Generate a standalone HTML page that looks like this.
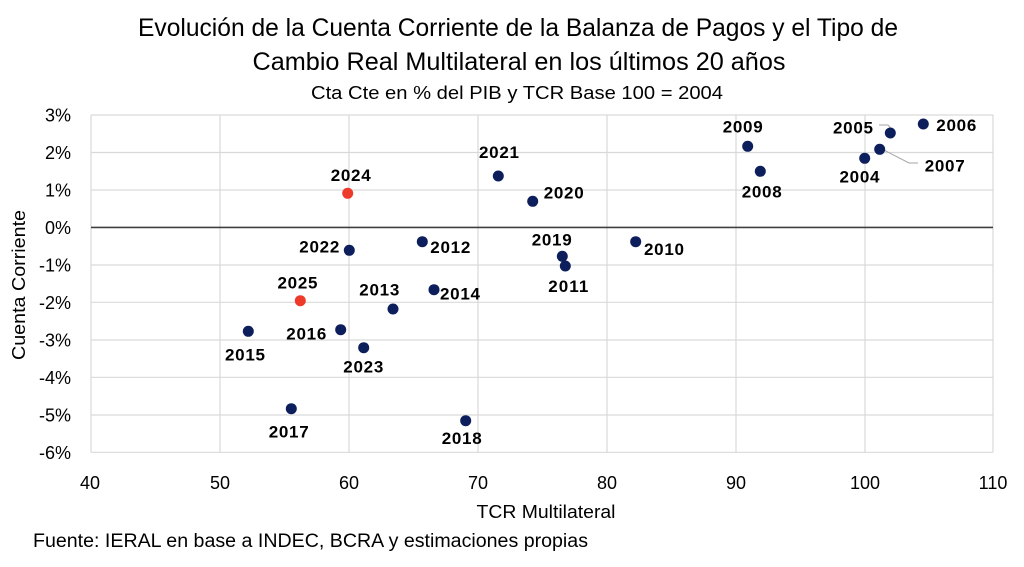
<!DOCTYPE html>
<html>
<head>
<meta charset="utf-8">
<style>
html,body{margin:0;padding:0;background:#fff;}
svg{display:block;}
text{font-family:"Liberation Sans",Arial,sans-serif;}
</style>
</head>
<body>
<svg width="1024" height="567" viewBox="0 0 1024 567" xmlns="http://www.w3.org/2000/svg">
<rect width="1024" height="567" fill="#fff"/>
<!-- Titles -->
<text x="518" y="36" font-size="25" fill="#000" text-anchor="middle" textLength="760" lengthAdjust="spacingAndGlyphs">Evolución de la Cuenta Corriente de la Balanza de Pagos y el Tipo de</text>
<text x="519" y="70" font-size="25" fill="#000" text-anchor="middle" textLength="533" lengthAdjust="spacingAndGlyphs">Cambio Real Multilateral en los últimos 20 años</text>
<text x="517" y="99" font-size="18" fill="#000" text-anchor="middle" textLength="412" lengthAdjust="spacingAndGlyphs">Cta Cte en % del PIB y TCR Base 100 = 2004</text>

<!-- Grid -->
<g stroke="#d9d9d9" stroke-width="1.2" fill="none">
<line x1="91" y1="115" x2="993" y2="115"/>
<line x1="91" y1="152.5" x2="993" y2="152.5"/>
<line x1="91" y1="190" x2="993" y2="190"/>
<line x1="91" y1="265" x2="993" y2="265"/>
<line x1="91" y1="302.3" x2="993" y2="302.3"/>
<line x1="91" y1="340" x2="993" y2="340"/>
<line x1="91" y1="377.3" x2="993" y2="377.3"/>
<line x1="91" y1="415" x2="993" y2="415"/>
<line x1="91" y1="452.3" x2="993" y2="452.3"/>
<line x1="91" y1="115" x2="91" y2="452.3"/>
<line x1="220" y1="115" x2="220" y2="452.3"/>
<line x1="349" y1="115" x2="349" y2="452.3"/>
<line x1="478" y1="115" x2="478" y2="452.3"/>
<line x1="607" y1="115" x2="607" y2="452.3"/>
<line x1="736" y1="115" x2="736" y2="452.3"/>
<line x1="865" y1="115" x2="865" y2="452.3"/>
<line x1="993" y1="115" x2="993" y2="452.3"/>
</g>
<line x1="91" y1="227.4" x2="993" y2="227.4" stroke="#404040" stroke-width="1.6"/>

<!-- Y tick labels -->
<g font-size="18" fill="#000" text-anchor="end">
<text x="71" y="121.5">3%</text>
<text x="71" y="159">2%</text>
<text x="71" y="196.5">1%</text>
<text x="71" y="233.9">0%</text>
<text x="71" y="271.5">-1%</text>
<text x="71" y="308.8">-2%</text>
<text x="71" y="346.5">-3%</text>
<text x="71" y="383.8">-4%</text>
<text x="71" y="421.5">-5%</text>
<text x="71" y="458.8">-6%</text>
</g>
<!-- X tick labels -->
<g font-size="18" fill="#000" text-anchor="middle">
<text x="90" y="489">40</text>
<text x="220" y="489">50</text>
<text x="349" y="489">60</text>
<text x="478" y="489">70</text>
<text x="607" y="489">80</text>
<text x="736" y="489">90</text>
<text x="865" y="489">100</text>
<text x="993" y="489">110</text>
</g>

<!-- Axis titles -->
<text x="546" y="518" font-size="18" fill="#000" text-anchor="middle" textLength="139" lengthAdjust="spacingAndGlyphs">TCR Multilateral</text>
<text transform="translate(25,285) rotate(-90)" x="0" y="0" font-size="18" fill="#000" text-anchor="middle" textLength="150" lengthAdjust="spacingAndGlyphs">Cuenta Corriente</text>

<!-- Source -->
<text x="33" y="547" font-size="19" fill="#000" textLength="555" lengthAdjust="spacingAndGlyphs">Fuente: IERAL en base a INDEC, BCRA y estimaciones propias</text>

<!-- Leader lines -->
<g stroke="#a6a6a6" stroke-width="1" fill="none">
<polyline points="879,125 888,125 893,131"/>
<polyline points="882,149 909,163 918,163"/>
</g>

<!-- Points -->
<g fill="#0c1f5c">
<circle cx="498.3" cy="176" r="5.5"/>
<circle cx="532.7" cy="201.3" r="5.5"/>
<circle cx="349.3" cy="250.3" r="5.5"/>
<circle cx="422.3" cy="241.7" r="5.5"/>
<circle cx="562.3" cy="256.3" r="5.5"/>
<circle cx="565.3" cy="266" r="5.5"/>
<circle cx="635.7" cy="241.7" r="5.5"/>
<circle cx="393" cy="309" r="5.5"/>
<circle cx="434" cy="289.7" r="5.5"/>
<circle cx="248.3" cy="331.3" r="5.5"/>
<circle cx="340.7" cy="329.7" r="5.5"/>
<circle cx="363.7" cy="347.7" r="5.5"/>
<circle cx="291.3" cy="408.7" r="5.5"/>
<circle cx="465.7" cy="420.7" r="5.5"/>
<circle cx="747.7" cy="146.3" r="5.5"/>
<circle cx="760.3" cy="171.3" r="5.5"/>
<circle cx="890.3" cy="133" r="5.5"/>
<circle cx="923.3" cy="124" r="5.5"/>
<circle cx="864.7" cy="158.3" r="5.5"/>
<circle cx="879.7" cy="149.3" r="5.5"/>
</g>
<g fill="#ee3a2b">
<circle cx="347.7" cy="193.3" r="5.5"/>
<circle cx="300.3" cy="300.7" r="5.5"/>
</g>

<!-- Point labels -->
<g font-size="17" font-weight="bold" fill="#000" text-anchor="middle" lengthAdjust="spacingAndGlyphs">
<text x="350.7" y="181" textLength="40">2024</text>
<text x="499" y="158" textLength="40">2021</text>
<text x="563.7" y="198.5" textLength="40">2020</text>
<text x="319.3" y="252.7" textLength="40">2022</text>
<text x="450.3" y="253" textLength="40">2012</text>
<text x="551.7" y="245.3" textLength="40">2019</text>
<text x="568.3" y="292" textLength="40">2011</text>
<text x="664" y="255" textLength="40">2010</text>
<text x="297.5" y="288.7" textLength="40">2025</text>
<text x="379.3" y="295.3" textLength="40">2013</text>
<text x="460" y="299.3" textLength="40">2014</text>
<text x="245" y="360.7" textLength="40">2015</text>
<text x="306.3" y="339.3" textLength="40">2016</text>
<text x="363.3" y="372.7" textLength="40">2023</text>
<text x="288.7" y="437.3" textLength="40">2017</text>
<text x="461.7" y="444" textLength="40">2018</text>
<text x="742.7" y="132.7" textLength="40">2009</text>
<text x="761.7" y="197.7" textLength="40">2008</text>
<text x="853" y="133.7" textLength="40">2005</text>
<text x="956.3" y="131" textLength="40">2006</text>
<text x="859.5" y="182.7" textLength="40">2004</text>
<text x="944.7" y="171.7" textLength="40">2007</text>
</g>
</svg>
</body>
</html>
